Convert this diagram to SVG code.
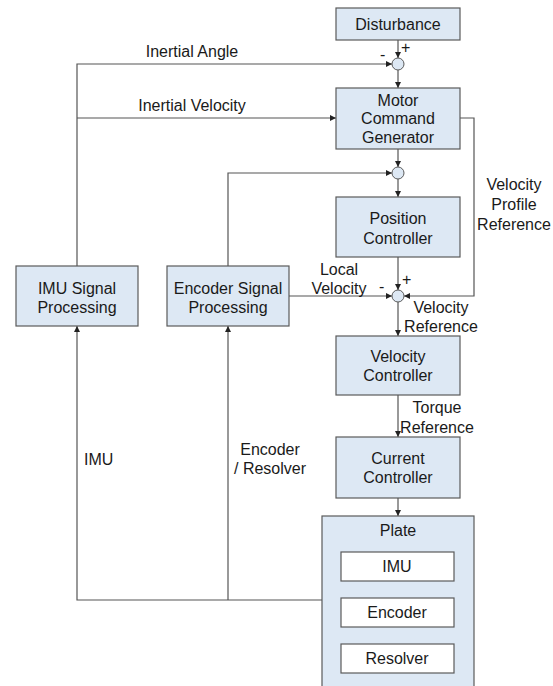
<svg xmlns="http://www.w3.org/2000/svg" width="553" height="686" viewBox="0 0 553 686">
<style>
.box{fill:#dde8f4;stroke:#5a5a5a;stroke-width:1.2}
.wbox{fill:#ffffff;stroke:#5a5a5a;stroke-width:1.2}
.sum{fill:#dde8f4;stroke:#5a5a5a;stroke-width:1}
.ln{fill:none;stroke:#555555;stroke-width:1.2}
text{font-family:"Liberation Sans",Arial,sans-serif;font-size:16px;fill:#1a1a1a}
.c{text-anchor:middle}
</style>
<defs>
<marker id="ah" markerUnits="userSpaceOnUse" markerWidth="8" markerHeight="8" refX="6" refY="3" orient="auto">
<path d="M0,0 L6,3 L0,6 z" fill="#222222"/>
</marker>
</defs>
<rect width="553" height="686" fill="#ffffff"/>
<g id="connectors">
<path class="ln" d="M398,40 V58" marker-end="url(#ah)"/>
<path class="ln" d="M77,266 V64 H392" marker-end="url(#ah)"/>
<path class="ln" d="M398,70 V88" marker-end="url(#ah)"/>
<path class="ln" d="M77,118 H336" marker-end="url(#ah)"/>
<path class="ln" d="M398,149 V167" marker-end="url(#ah)"/>
<path class="ln" d="M228,266 V173 H392" marker-end="url(#ah)"/>
<path class="ln" d="M398,179 V197" marker-end="url(#ah)"/>
<path class="ln" d="M398,257 V290" marker-end="url(#ah)"/>
<path class="ln" d="M460,118 H474 V296 H404" marker-end="url(#ah)"/>
<path class="ln" d="M289,296 H392" marker-end="url(#ah)"/>
<path class="ln" d="M398,302 V336" marker-end="url(#ah)"/>
<path class="ln" d="M398,395 V437" marker-end="url(#ah)"/>
<path class="ln" d="M398,498 V516" marker-end="url(#ah)"/>
<path class="ln" d="M322,600 H77 V326" marker-end="url(#ah)"/>
<path class="ln" d="M228,600 V326" marker-end="url(#ah)"/>
</g>
<g id="labels">
<text class="c" x="192" y="57">Inertial Angle</text>
<text class="c" x="192" y="111">Inertial Velocity</text>
<text x="401" y="53">+</text>
<text x="380" y="60">-</text>
<text class="c" x="514" y="190">Velocity</text>
<text class="c" x="514" y="210">Profile</text>
<text class="c" x="514" y="230">Reference</text>
<text class="c" x="339" y="275">Local</text>
<text class="c" x="339" y="294">Velocity</text>
<text x="379" y="292">-</text>
<text x="402" y="285">+</text>
<text class="c" x="441" y="313">Velocity</text>
<text class="c" x="441" y="332">Reference</text>
<text class="c" x="437" y="413">Torque</text>
<text class="c" x="437" y="433">Reference</text>
<text x="84" y="465">IMU</text>
<text class="c" x="270" y="455">Encoder</text>
<text class="c" x="270" y="474">/ Resolver</text>
</g>
<g id="sum1"><circle class="sum" cx="398" cy="64" r="6"/></g>
<g id="sum2"><circle class="sum" cx="398" cy="173" r="6"/></g>
<g id="sum3"><circle class="sum" cx="398" cy="296" r="6"/></g>
<g id="disturbance">
<rect class="box" x="336" y="8" width="124" height="32"/>
<text class="c" x="398" y="30">Disturbance</text>
</g>
<g id="motor-command-generator">
<rect class="box" x="336" y="88" width="124" height="61"/>
<text class="c" x="398" y="106">Motor</text>
<text class="c" x="398" y="124">Command</text>
<text class="c" x="398" y="143">Generator</text>
</g>
<g id="position-controller">
<rect class="box" x="336" y="197" width="124" height="60"/>
<text class="c" x="398" y="224">Position</text>
<text class="c" x="398" y="244">Controller</text>
</g>
<g id="imu-signal-processing">
<rect class="box" x="16" y="266" width="122" height="60"/>
<text class="c" x="77" y="294">IMU Signal</text>
<text class="c" x="77" y="313">Processing</text>
</g>
<g id="encoder-signal-processing">
<rect class="box" x="167" y="266" width="122" height="60"/>
<text class="c" x="228" y="294">Encoder Signal</text>
<text class="c" x="228" y="313">Processing</text>
</g>
<g id="velocity-controller">
<rect class="box" x="336" y="336" width="124" height="59"/>
<text class="c" x="398" y="362">Velocity</text>
<text class="c" x="398" y="381">Controller</text>
</g>
<g id="current-controller">
<rect class="box" x="336" y="437" width="124" height="61"/>
<text class="c" x="398" y="464">Current</text>
<text class="c" x="398" y="483">Controller</text>
</g>
<g id="plate">
<rect class="box" x="322" y="516" width="152" height="180"/>
<text class="c" x="398" y="536">Plate</text>
<rect class="wbox" x="341" y="552" width="113" height="29"/>
<text class="c" x="397" y="572">IMU</text>
<rect class="wbox" x="341" y="598" width="113" height="29"/>
<text class="c" x="397" y="618">Encoder</text>
<rect class="wbox" x="341" y="644" width="113" height="29"/>
<text class="c" x="397" y="664">Resolver</text>
</g>
</svg>
